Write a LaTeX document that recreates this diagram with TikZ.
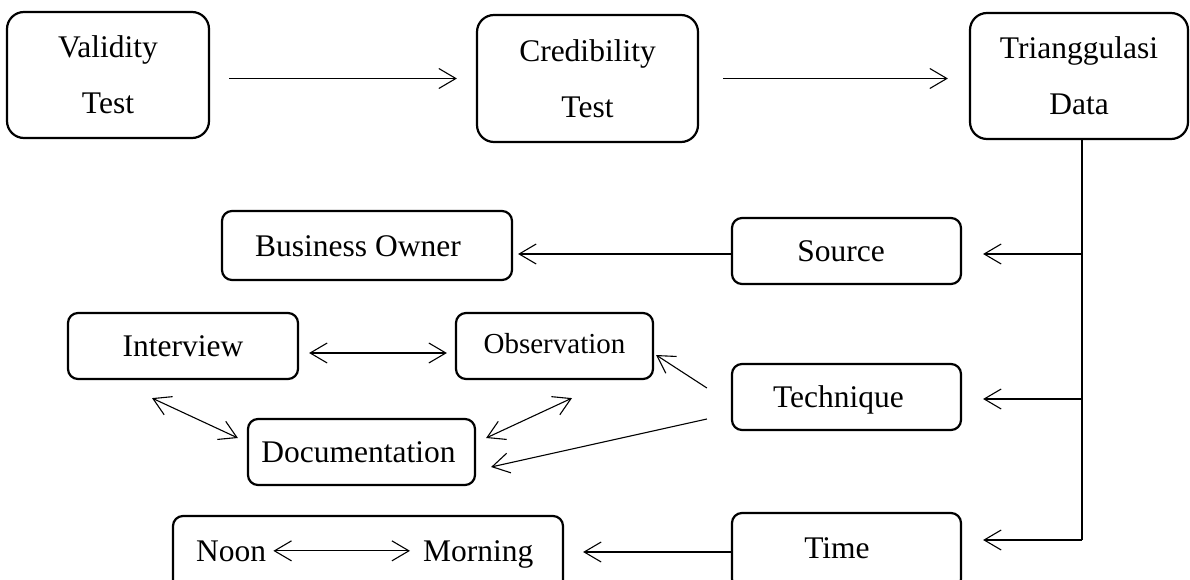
\documentclass[tikz,border=0pt]{standalone}
\usepackage{fontspec}
\setmainfont{Liberation Serif}
\usetikzlibrary{arrows.meta}
\begin{document}
\begin{tikzpicture}[x=1pt,y=1pt,
  box/.style={draw, line width=2.2pt, rounded corners=10pt, inner sep=0pt,
    font=\fontsize{31.5}{38}\selectfont, text height=21pt, text depth=0pt},
  bigbox/.style={draw, line width=2.2pt, rounded corners=17pt, inner sep=0pt,
    align=center, font=\fontsize{31.5}{56}\selectfont},
  txt/.style={inner sep=0pt, anchor=base west, font=\fontsize{31.5}{38}\selectfont},
  conn/.style={line width=1.1pt},
  arr/.style={conn, -{Straight Barb[length=17pt,width=20pt]}},
  darr/.style={conn, {Straight Barb[length=17pt,width=20pt]}-{Straight Barb[length=17pt,width=20pt]}},
]
\useasboundingbox (0,0) rectangle (1190,579);
\fill[white] (0,0) rectangle (1190,579);

% top row
\node[bigbox, minimum width=202pt, minimum height=126pt] (valid) at (108,504) {Validity\\Test};
\node[bigbox, minimum width=221pt, minimum height=127pt] (cred) at (587.5,500.5) {Credibility\\Test};
\node[bigbox, minimum width=218pt, minimum height=126pt] (tri) at (1079,503) {Trianggulasi\\Data};

% second level
\node[box, minimum width=290pt, minimum height=69pt] (bo) at (367,333.5) {Business Owner\hspace*{18pt}};
\node[box, minimum width=229pt, minimum height=66pt] (src) at (846.5,328) {Source\hspace*{11pt}};
\node[box, minimum width=230pt, minimum height=66pt] (int) at (183,233) {Interview};
\node[box, minimum width=197pt, minimum height=66pt, font=\fontsize{29}{35}\selectfont, text height=15pt] (obs) at (554.5,233) {Observation};
\node[box, minimum width=229pt, minimum height=66pt] (tech) at (846.5,182) {Technique\hspace*{16pt}};
\node[box, minimum width=227pt, minimum height=66pt] (doc) at (361.5,127) {Documentation\hspace*{6pt}};
\node[box, minimum width=229pt, minimum height=76pt, text height=14pt] (time) at (846.5,28) {Time\hspace*{19pt}};
\node[box, minimum width=390pt, minimum height=76pt] (nm) at (368,25) {};
\node[txt] (noon) at (196,18) {Noon};
\node[txt] (morning) at (423,18) {Morning};

% top arrows
\draw[arr, shorten <=19pt, shorten >=19pt] (valid.east |- cred.west) -- (cred.west);
\draw[arr, shorten <=24pt, shorten >=21pt] (cred.east) -- (cred.east -| tri.west);

% trunk and branches
\coordinate (j1) at (1082,325);
\coordinate (j2) at (1082,180);
\coordinate (j3) at (1082,39);
\draw[conn] ([xshift=3pt]tri.south) -- (j3);
\draw[arr, shorten >=21pt] (j1) -- (j1 -| src.east);
\draw[arr, shorten >=21pt] (j2) -- (j2 -| tech.east);
\draw[arr, shorten >=21pt] (j3) -- (j3 -| time.east);

% source
\draw[arr, shorten >=5pt] (src.west |- j1) -- (bo.east |- j1);

% technique
\draw[arr] ([shift={(-24pt,9pt)}]tech.west) -- ([shift={(2pt,-9pt)}]obs.east);
\draw[arr] ([shift={(-24pt,-22pt)}]tech.west) -- ([shift={(15pt,-15pt)}]doc.east);
\draw[darr] ([shift={(10pt,14pt)}]doc.east) -- ([shift={(17.5pt,-18pt)}]obs.south);
\draw[darr] ([shift={(-31pt,-18pt)}]int.south) -- ([shift={(-9pt,14pt)}]doc.west);
\draw[darr] ([shift={(10pt,-7pt)}]int.east) -- ([shift={(-8pt,-7pt)}]obs.west);

% time
\draw[arr, shorten >=19pt] ([yshift=-1pt]time.west) -- ([yshift=-1pt]time.west -| nm.east);
\draw[darr, shorten <=7pt, shorten >=13pt] (noon.east) -- (noon.east -| morning.west);
\end{tikzpicture}
\end{document}
